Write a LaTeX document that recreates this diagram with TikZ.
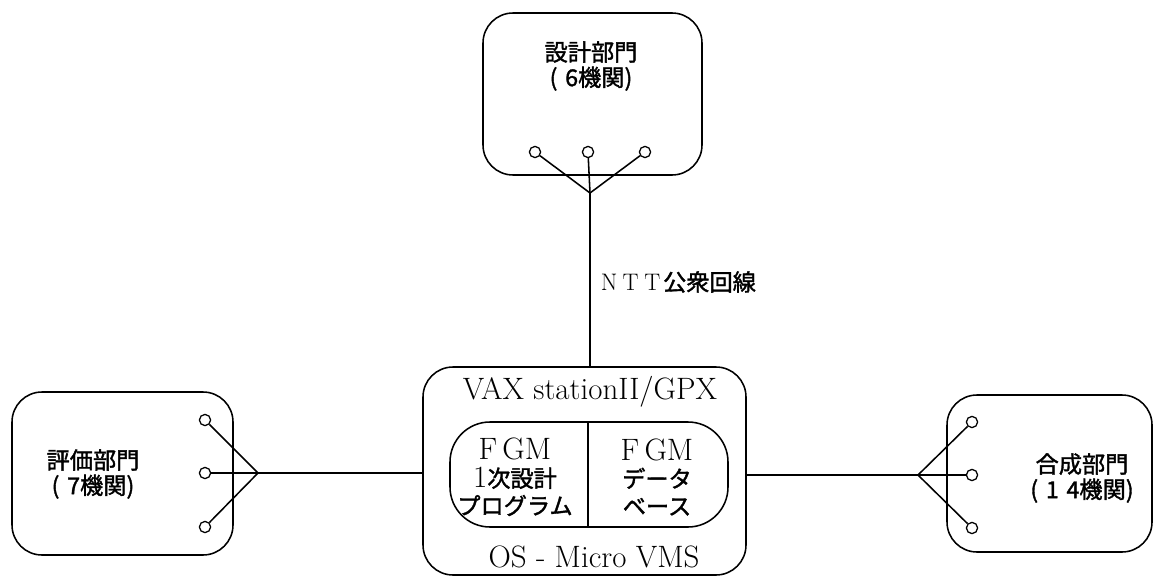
\documentclass[tikz,border=0pt]{standalone}
\usepackage{fontspec}
\newfontfamily\jp[Scale=0.75, FakeBold=1.5]{Noto Sans CJK JP}
\newcommand{\wide}[1]{\makebox[0.54cm]{#1}}
\usetikzlibrary{fit}
\begin{document}
\begin{tikzpicture}[x=0.025cm, y=-0.025cm,
		dept/.style={draw, line width=1.1pt, rounded corners=0.75cm, inner sep=0pt},
		term/.style={circle, draw, line width=0.9pt, inner sep=0pt, minimum size=0.28cm},
		wire/.style={line width=1.1pt},
		txt/.style={align=center, inner sep=0pt, font=\fontsize{22}{18}\selectfont}]
	\useasboundingbox (0,0) rectangle (1156,578);
	\node[dept, fit={(483,13) (702,175)}] (design) {};
	\node[dept, fit={(12,392) (233,555)}] (eval) {};
	\node[dept, fit={(947,395) (1152,552)}] (synth) {};
	\node[dept, fit={(423,367) (746,575)}] (vax) {};
	\node[dept, rounded corners=1cm, fit={(450,422) (728,527)}] (fgm) {};
	\draw[wire] (fgm.north -| 588,0) -- (fgm.south -| 588,0);
	\node[txt] (designtxt) at (591,66) {{\jp 設計部門}\\{\jp (\,\,6機関)}};
	\node[txt] (evaltxt) at (93,474) {{\jp 評価部門}\\{\jp (\,\,7機関)}};
	\node[txt] (synthtxt) at (1082,478) {{\jp 合成部門}\\{\jp (\,\,1\,\,4機関)}};
	\node[txt] (vaxtxt) at (590,392) {VAX stationII/GPX};
	\node[txt] (ostxt) at (594,557) {OS - Micro VMS};
	\node[txt, font=\fontsize{22}{19.5}\selectfont] (progtxt) at (515,477) {F\,GM\\1{\jp 次設計}\\{\jp プログラム}};
	\node[txt, font=\fontsize{22}{19.5}\selectfont] (dbtxt) at (657,477) {F\,GM\\{\jp データ}\\{\jp ベース}};
	\node[txt, anchor=west, font=\fontsize{17}{18}\selectfont] (ntt) at (598,282) {\wide{N}\wide{T}\wide{T}{\jp\fontsize{22}{18}\selectfont 公衆回線}};
	\foreach \n/\x in {1/535, 2/588, 3/645}
		\node[term] (d\n) at (\x,152) {};
	\foreach \n/\y in {1/420, 2/473, 3/527}
		\node[term] (e\n) at (205,\y) {};
	\foreach \n/\y in {1/422, 2/475, 3/528}
		\node[term] (s\n) at (972,\y) {};
	\coordinate (dj) at (590,193);
	\coordinate (ej) at (258,473);
	\coordinate (sj) at (918,475);
	\foreach \n in {1,2,3} {
		\draw[wire] (d\n) -- (dj);
		\draw[wire] (e\n) -- (ej);
		\draw[wire] (s\n) -- (sj);
	}
	\draw[wire] (dj) -- (vax.north -| dj);
	\draw[wire] (ej) -- (vax.west |- ej);
	\draw[wire] (sj) -- (vax.east |- sj);
\end{tikzpicture}
\end{document}
